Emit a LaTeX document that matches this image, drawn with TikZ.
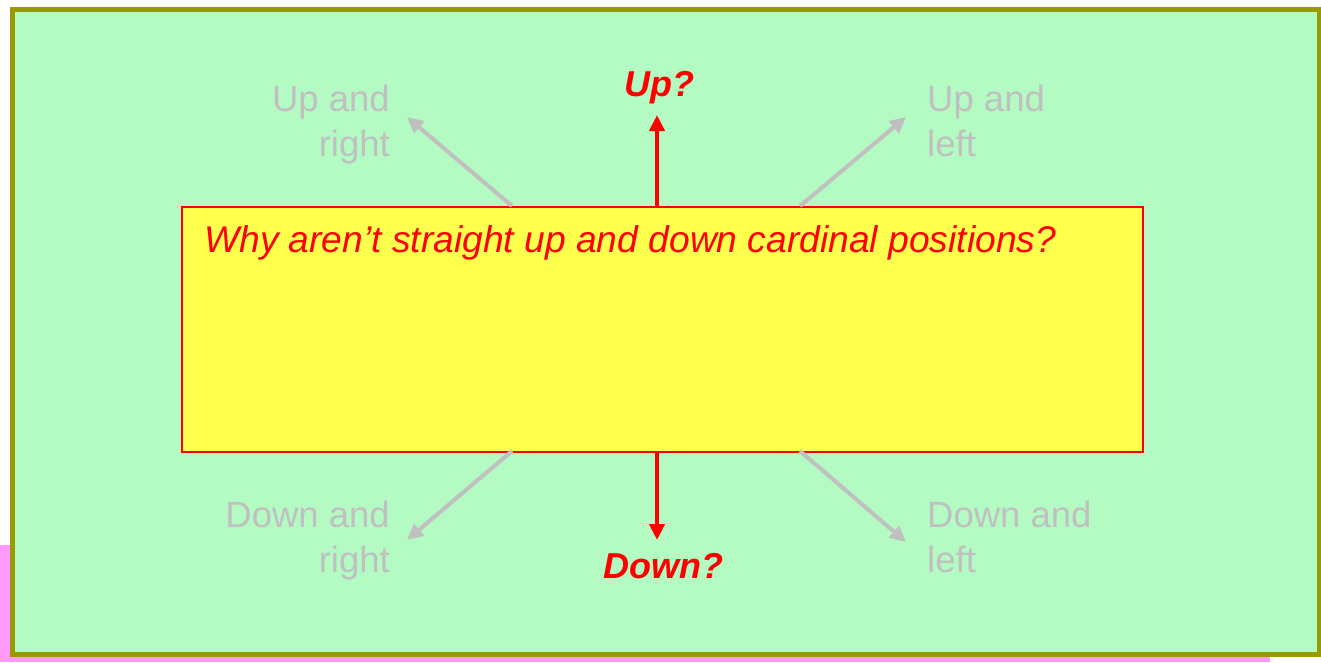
\documentclass[tikz,border=0pt]{standalone}
\usepackage{fontspec}
\setmainfont{Liberation Sans}
\usetikzlibrary{arrows.meta}
\definecolor{bggreen}{RGB}{179,250,195}
\definecolor{olive}{RGB}{153,153,0}
\definecolor{boxyellow}{RGB}{255,255,77}
\definecolor{pinkbg}{RGB}{255,153,255}
\definecolor{lgray}{RGB}{192,192,192}
\tikzset{
  lbl/.style={text=lgray, font=\fontsize{36.5}{45}\selectfont, inner sep=0pt},
  garrow/.style={draw=lgray, line width=4pt, -{Triangle[length=16pt,width=15pt]}},
  rarrow/.style={draw=red, line width=4pt, -{Triangle[length=16pt,width=15pt]}},
  qlbl/.style={text=red, font=\fontsize{36}{45}\selectfont\bfseries\itshape, inner sep=0pt},
}
\begin{document}
\begin{tikzpicture}[x=1pt,y=-1pt]
\useasboundingbox (0,0) rectangle (1321,662);
% backdrop remnants
\fill[pinkbg] (0,545) rectangle (12,662);
\fill[pinkbg] (0,654) rectangle (1270,662);
% main panel
\draw[olive, line width=5pt, fill=bggreen] (12.5,9.5) rectangle (1319,654.5);
% central box
\node[draw=red, line width=1.5pt, fill=boxyellow, minimum width=961pt, minimum height=245pt, inner sep=0pt, anchor=north west] (box) at (181,206) {};
\node[text=red, font=\fontsize{37.2}{45}\selectfont\itshape, inner sep=0pt, anchor=base west] (q) at (204,252) {Why aren’t straight up and down cardinal positions?};
% labels
\node[lbl, align=right, anchor=north east] (ur) at (390,85) {Up and\\right};
\node[lbl, align=left, anchor=north west] (ul) at (927,85) {Up and\\left};
\node[lbl, align=right, anchor=north east] (dr) at (390,501) {Down and\\right};
\node[lbl, align=left, anchor=north west] (dl) at (927,501) {Down and\\left};
\node[qlbl, anchor=base] (up) at (659,96) {Up?};
\node[qlbl, anchor=base] (down) at (663,578) {Down?};
% arrow endpoints
\coordinate (ulS) at (512,206);
\coordinate (ulE) at (407,117);
\coordinate (urS) at (800,206);
\coordinate (urE) at (906,117);
\coordinate (dlS) at (512,451);
\coordinate (dlE) at (407,540);
\coordinate (drS) at (800,451);
\coordinate (drE) at (906,542);
\coordinate (upS) at (657,206);
\coordinate (upE) at (657,115);
\coordinate (dnS) at (657,451);
\coordinate (dnE) at (657,540);
\draw[garrow] (ulS) -- (ulE);
\draw[garrow] (urS) -- (urE);
\draw[garrow] (dlS) -- (dlE);
\draw[garrow] (drS) -- (drE);
\draw[rarrow] (upS) -- (upE);
\draw[rarrow] (dnS) -- (dnE);
\end{tikzpicture}
\end{document}
